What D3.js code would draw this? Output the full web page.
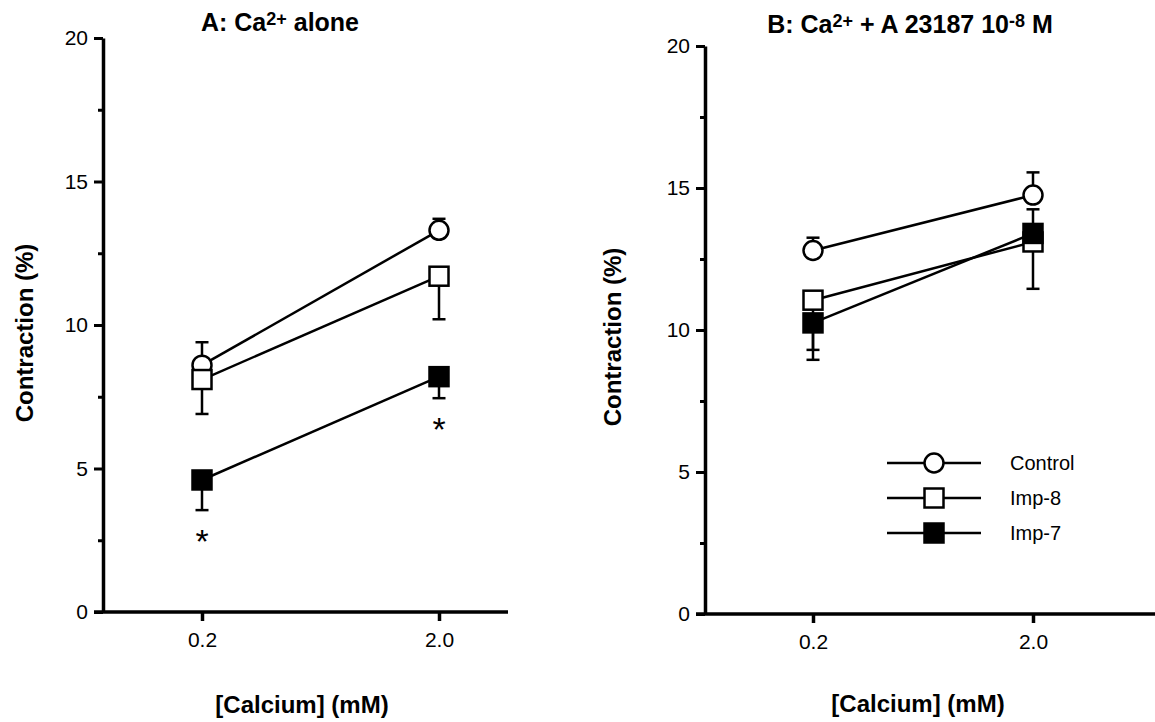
<!DOCTYPE html>
<html>
<head>
<meta charset="utf-8">
<script src="https://cdnjs.cloudflare.com/ajax/libs/d3/7.8.5/d3.min.js"></script>
<style>
  body { margin: 0; background: #fff; }
  svg text { font-family: "Liberation Sans", Arial, Helvetica, sans-serif; fill: #000; }
</style>
</head>
<body>
<div id="chart"></div>
<script>
// calcium concentrations (mM) and their labels
const concentrations = [0.2, 2.0];
const xTickLabels = ["0.2", "2.0"];
const yTicks = [0, 5, 10, 15, 20];
const yMinorTicks = [2.5, 7.5, 12.5, 17.5];
const seriesNames = ["Control", "Imp-8", "Imp-7"];

// panel A: Ca2+ alone  (err > 0 drawn up, err < 0 drawn down)
const aControl = [8.6, 13.3];
const aControlErr = [0.8, 0.4];
const aImp8 = [8.1, 11.7];
const aImp8Err = [-1.2, -1.5];
const aImp7 = [4.6, 8.2];
const aImp7Err = [-1.05, -0.75];
const aImp7Signif = [true, true];

// panel B: Ca2+ + A 23187
const bControl = [12.8, 14.75];
const bControlErr = [0.45, 0.8];
const bImp8 = [11.05, 13.1];
const bImp8Err = [-1.75, -1.65];
const bImp7 = [10.25, 13.4];
const bImp7Err = [-1.3, 0.85];
const bImp7Signif = [false, false];

const width = 1155, height = 722;
const svg = d3.select("#chart").append("svg")
  .attr("width", width)
  .attr("height", height);

const markerSize = 19;

function drawMarker(g, kind, cx, cy) {
  if (kind === "circle") {
    g.append("circle")
      .attr("cx", cx).attr("cy", cy).attr("r", markerSize / 2)
      .attr("fill", "#fff").attr("stroke", "#000").attr("stroke-width", 2.5);
  } else {
    g.append("rect")
      .attr("x", cx - markerSize / 2).attr("y", cy - markerSize / 2)
      .attr("width", markerSize).attr("height", markerSize)
      .attr("fill", kind === "filled" ? "#000" : "#fff")
      .attr("stroke", "#000").attr("stroke-width", 2.5);
  }
}

function drawPanel(p) {
  const g = svg.append("g");
  const x = d3.scaleLog().domain([0.2, 2.0]).range([p.x02, p.x20]);
  const y = d3.scaleLinear().domain([0, 20]).range([p.y0, p.y20]);

  // x axis baseline
  g.append("line")
    .attr("x1", p.axisX - 9).attr("x2", p.xEnd)
    .attr("y1", p.y0).attr("y2", p.y0)
    .attr("stroke", "#000").attr("stroke-width", 3.5);

  const xAxis = g.append("g")
    .attr("transform", "translate(0," + p.y0 + ")")
    .call(d3.axisBottom(x)
      .tickValues(concentrations)
      .tickFormat((d, i) => xTickLabels[i])
      .tickSize(9)
      .tickPadding(11));
  xAxis.select(".domain").remove();
  xAxis.selectAll(".tick line").attr("stroke-width", 3.5);
  xAxis.selectAll(".tick text").attr("font-size", 21)
    .style("font-family", "Liberation Sans, Arial, sans-serif");

  // y axis
  const yAxis = g.append("g")
    .attr("transform", "translate(" + p.axisX + ",0)")
    .call(d3.axisLeft(y)
      .tickValues(yTicks)
      .tickSize(9)
      .tickSizeOuter(0)
      .tickPadding(6));
  yAxis.select(".domain").attr("stroke-width", 3.5);
  yAxis.selectAll(".tick line").attr("stroke-width", 3);
  yAxis.selectAll(".tick text").attr("font-size", 21)
    .style("font-family", "Liberation Sans, Arial, sans-serif");

  const yMinor = g.append("g")
    .attr("transform", "translate(" + p.axisX + ",0)")
    .call(d3.axisLeft(y).tickValues(yMinorTicks).tickSize(5).tickFormat(""));
  yMinor.select(".domain").remove();
  yMinor.selectAll(".tick line").attr("stroke-width", 3);

  // series
  const series = [
    { name: seriesNames[0], values: p.control, err: p.controlErr, kind: "circle" },
    { name: seriesNames[1], values: p.imp8, err: p.imp8Err, kind: "open" },
    { name: seriesNames[2], values: p.imp7, err: p.imp7Err, kind: "filled", signif: p.imp7Signif }
  ];

  const line = d3.line()
    .x((d, i) => x(concentrations[i]))
    .y(d => y(d));

  series.forEach(s => {
    // error bars
    s.values.forEach((v, i) => {
      const cx = x(concentrations[i]);
      const yEnd = y(v + s.err[i]);
      g.append("line")
        .attr("x1", cx).attr("x2", cx)
        .attr("y1", y(v)).attr("y2", yEnd)
        .attr("stroke", "#000").attr("stroke-width", 2.5);
      g.append("line")
        .attr("x1", cx - 6.5).attr("x2", cx + 6.5)
        .attr("y1", yEnd).attr("y2", yEnd)
        .attr("stroke", "#000").attr("stroke-width", 2.5);
      if (s.signif && s.signif[i]) {
        g.append("text")
          .attr("x", cx).attr("y", yEnd + 43)
          .attr("text-anchor", "middle")
          .attr("font-size", 34)
          .text("*");
      }
    });
    g.append("path")
      .datum(s.values)
      .attr("d", line)
      .attr("fill", "none")
      .attr("stroke", "#000")
      .attr("stroke-width", 2.5);
    s.values.forEach((v, i) => drawMarker(g, s.kind, x(concentrations[i]), y(v)));
  });

  // titles
  const t = g.append("text")
    .attr("x", p.titleX).attr("y", p.titleY)
    .attr("text-anchor", "middle")
    .attr("font-size", 25).attr("font-weight", "bold");
  p.title.forEach(part => {
    const ts = t.append("tspan").text(part.text);
    if (part.sup) ts.attr("font-size", 18).attr("baseline-shift", "35%");
  });

  g.append("text")
    .attr("transform", "translate(" + p.yLabelX + "," + p.yLabelY + ") rotate(-90)")
    .attr("text-anchor", "middle")
    .attr("font-size", 24).attr("font-weight", "bold")
    .text("Contraction (%)");

  g.append("text")
    .attr("x", p.xLabelX).attr("y", p.xLabelY)
    .attr("text-anchor", "middle")
    .attr("font-size", 24).attr("font-weight", "bold")
    .text("[Calcium] (mM)");

  // legend
  if (p.legend) {
    const kinds = ["circle", "open", "filled"];
    seriesNames.forEach((name, i) => {
      const ly = p.legend.y + i * p.legend.dy;
      g.append("line")
        .attr("x1", p.legend.x1).attr("x2", p.legend.x2)
        .attr("y1", ly).attr("y2", ly)
        .attr("stroke", "#000").attr("stroke-width", 2.5);
      drawMarker(g, kinds[i], (p.legend.x1 + p.legend.x2) / 2, ly);
      g.append("text")
        .attr("x", p.legend.tx).attr("y", ly)
        .attr("dy", "0.35em")
        .attr("font-size", 20)
        .text(name);
    });
  }
}

drawPanel({
  axisX: 103, xEnd: 508, y0: 612, y20: 38,
  x02: 202, x20: 439,
  control: aControl, controlErr: aControlErr,
  imp8: aImp8, imp8Err: aImp8Err,
  imp7: aImp7, imp7Err: aImp7Err, imp7Signif: aImp7Signif,
  title: [{ text: "A: Ca" }, { text: "2+", sup: true }, { text: " alone" }],
  titleX: 280, titleY: 31,
  yLabelX: 33, yLabelY: 333,
  xLabelX: 302, xLabelY: 713
});

drawPanel({
  axisX: 705, xEnd: 1155, y0: 614, y20: 46,
  x02: 813, x20: 1033,
  control: bControl, controlErr: bControlErr,
  imp8: bImp8, imp8Err: bImp8Err,
  imp7: bImp7, imp7Err: bImp7Err, imp7Signif: bImp7Signif,
  title: [{ text: "B: Ca" }, { text: "2+", sup: true }, { text: " + A 23187 10" }, { text: "-8", sup: true }, { text: " M" }],
  titleX: 910, titleY: 33,
  yLabelX: 621, yLabelY: 337,
  xLabelX: 918, xLabelY: 712,
  legend: { x1: 887, x2: 981, y: 463, dy: 35, tx: 1010 }
});
</script>
</body>
</html>
